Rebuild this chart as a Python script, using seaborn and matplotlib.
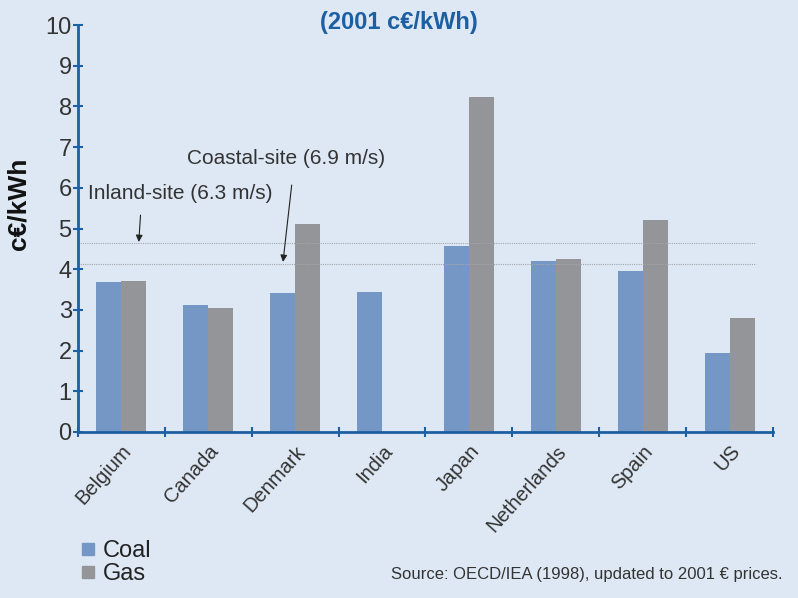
import matplotlib
matplotlib.use("Agg")
import matplotlib.pyplot as plt
from matplotlib.lines import Line2D
import seaborn as sns
import pandas as pd
import numpy as np

# Generating costs by country, c€/kWh (2001 prices)
countries = ["Belgium", "Canada", "Denmark", "India", "Japan", "Netherlands", "Spain", "US"]
coal = [3.68, 3.11, 3.41, 3.45, 4.58, 4.21, 3.95, 1.93]
gas = [3.70, 3.04, 5.11, np.nan, 8.23, 4.26, 5.22, 2.79]
fuels = ["Coal", "Gas"]

# Wind reference costs (dotted lines)
inland_cost = 4.64
coastal_cost = 4.14

BG = "#dee8f4"
BLUE = "#7597c5"
GREY = "#939598"
AXIS = "#1c5fa3"
TITLE = "#1c5fa3"
SANS = ["Liberation Sans", "DejaVu Sans"]

df = pd.DataFrame({
    "country": countries * 2,
    "fuel": ["Coal"] * len(countries) + ["Gas"] * len(countries),
    "cost": coal + gas,
})

sns.set_theme(style="white")
plt.rcParams["font.family"] = SANS

fig = plt.figure(figsize=(7.98, 5.98), dpi=100, facecolor=BG)
ax = fig.add_axes([0.0977, 0.2776, 0.8710, 0.6804])
ax.set_facecolor(BG)

sns.barplot(data=df, x="country", y="cost", hue="fuel", hue_order=fuels,
            palette={"Coal": BLUE, "Gas": GREY}, width=0.575, saturation=1,
            linewidth=0, edgecolor="none", legend=False, ax=ax)

ax.set_ylim(0, 10)
ax.set_xlim(-0.5, len(countries) - 0.5)

# reference lines
for level in (inland_cost, coastal_cost):
    ax.plot([-0.5, 7.3], [level, level], ls=(0, (1, 1)), color="#a3a7ad",
            lw=0.8, zorder=1)

# spines and ticks
for s in ["top", "right"]:
    ax.spines[s].set_visible(False)
for s in ["left", "bottom"]:
    ax.spines[s].set_color(AXIS)
    ax.spines[s].set_linewidth(2)

ax.set_yticks(range(0, 11))
ax.tick_params(axis="y", direction="inout", length=7, width=1.5, color=AXIS,
               labelsize=17, labelcolor="#333333", pad=1, left=True)
ax.set_xticks(range(len(countries)))
ax.set_xticklabels(countries, rotation=48, ha="right", rotation_mode="anchor",
                   fontsize=14.5, color="#333333")
ax.tick_params(axis="x", length=0, pad=7)
ax.set_xticks(np.arange(-0.5, len(countries)), minor=True)
ax.tick_params(axis="x", which="minor", direction="inout", length=7, width=1.5,
               color=AXIS, bottom=True)

ax.set_xlabel("")
ax.set_ylabel("c€/kWh", fontsize=19, fontweight="bold", color="#111111")
ax.yaxis.set_label_coords(-0.069, 0.56)

# annotations
ax.text(0.754, 6.73, "Coastal-site (6.9 m/s)", fontsize=15, color="#333333",
        ha="left", va="center")
ax.annotate("", xy=(1.86, coastal_cost + 0.04), xytext=(1.96, 6.07),
            arrowprops=dict(arrowstyle="-|>", color="#222222", lw=0.8,
                            shrinkA=0, shrinkB=0, mutation_scale=10))
ax.text(-0.385, 5.87, "Inland-site (6.3 m/s)", fontsize=15, color="#333333",
        ha="left", va="center")
ax.annotate("", xy=(0.2, inland_cost + 0.03), xytext=(0.22, 5.33),
            arrowprops=dict(arrowstyle="-|>", color="#222222", lw=0.8,
                            shrinkA=0, shrinkB=0, mutation_scale=10))

# title (second line)
fig.text(0.5, 0.962, "(2001 c€/kWh)", ha="center", va="center", fontsize=17,
         fontweight="bold", color=TITLE)

# legend
handles = [Line2D([0], [0], marker="s", ls="", markersize=8, color=BLUE),
           Line2D([0], [0], marker="s", ls="", markersize=8, color=GREY)]
leg = fig.legend(handles, fuels, loc="upper left", bbox_to_anchor=(0.098, 0.097),
                 frameon=False, fontsize=17, handletextpad=0.25, labelspacing=0.05,
                 handlelength=0.8, borderaxespad=0, borderpad=0)
for t in leg.get_texts():
    t.set_color("#222222")

fig.text(0.98, 0.04, "Source: OECD/IEA (1998), updated to 2001 € prices.",
         ha="right", va="center", fontsize=12, color="#333333")

fig.savefig("out.png", dpi=100, facecolor=BG)
